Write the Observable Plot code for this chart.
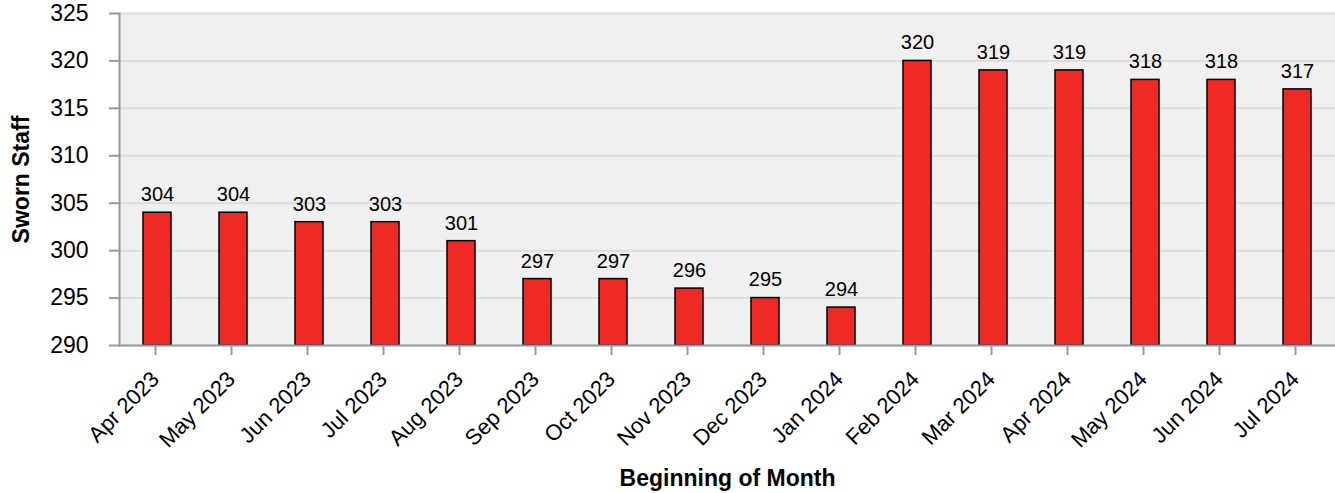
<!DOCTYPE html>
<html>
<head>
<meta charset="utf-8">
<script src="https://cdn.jsdelivr.net/npm/d3@7"></script>
<script src="https://cdn.jsdelivr.net/npm/@observablehq/plot@0.6"></script>
<style>
  html, body { margin: 0; padding: 0; background: #fff; }
  #chart svg { display: block; }
</style>
</head>
<body>
<div id="chart"></div>
<script>
const months = ["Apr 2023","May 2023","Jun 2023","Jul 2023","Aug 2023","Sep 2023","Oct 2023","Nov 2023","Dec 2023","Jan 2024","Feb 2024","Mar 2024","Apr 2024","May 2024","Jun 2024","Jul 2024"];
const sworn = [304,304,303,303,301,297,297,296,295,294,320,319,319,318,318,317];
const yTicks = [290,295,300,305,310,315,320,325];
const yDomain = [290, 325];
const xTitle = "Beginning of Month";
const yTitle = "Sworn Staff";

const data = months.map((m, i) => ({month: m, value: sworn[i], base: yDomain[0]}));

const chart = Plot.plot({
  width: 1335,
  height: 493,
  marginLeft: 119,
  marginRight: 0,
  marginTop: 13,
  marginBottom: 148,
  style: {fontFamily: "Liberation Sans, Arial, sans-serif", fontSize: "16px", color: "#000", background: "#fff"},
  x: {domain: months, paddingInner: 0.63, paddingOuter: 0.315, label: null},
  y: {domain: yDomain, label: null},
  marks: [
    Plot.frame({fill: "#f0f0f0", stroke: null}),
    Plot.gridY(yTicks, {stroke: "#dddddd", strokeOpacity: 1, strokeWidth: 2}),
    Plot.barY(data, {x: "month", y1: "base", y2: "value", fill: "#ee2a26", stroke: "#000", strokeWidth: 1.5}),
    Plot.text(data, {x: "month", y: "value", text: d => String(d.value), dy: -18, fontSize: 20, fill: "#000"}),
    Plot.axisY({ticks: yTicks, tickSize: 10, tickPadding: 21, stroke: "#999", strokeWidth: 2, fill: "#000", fontSize: 23, label: null}),
    Plot.axisX({tickSize: 10, tickPadding: 20, dx: -2, tickRotate: -45, stroke: "#999", strokeWidth: 2, fill: "#000", fontSize: 22, label: null}),
    Plot.frame({anchor: "left", stroke: "#999", strokeWidth: 2}),
    Plot.frame({anchor: "bottom", stroke: "#999", strokeWidth: 2}),
    Plot.text([xTitle], {frameAnchor: "bottom", lineAnchor: "middle", textAnchor: "middle", dy: 133, fontWeight: "bold", fontSize: 23, fill: "#000"}),
    Plot.text([yTitle], {frameAnchor: "left", lineAnchor: "middle", textAnchor: "middle", dx: -98, rotate: -90, fontWeight: "bold", fontSize: 23, fill: "#000"})
  ]
});
document.getElementById("chart").appendChild(chart);
</script>
</body>
</html>
